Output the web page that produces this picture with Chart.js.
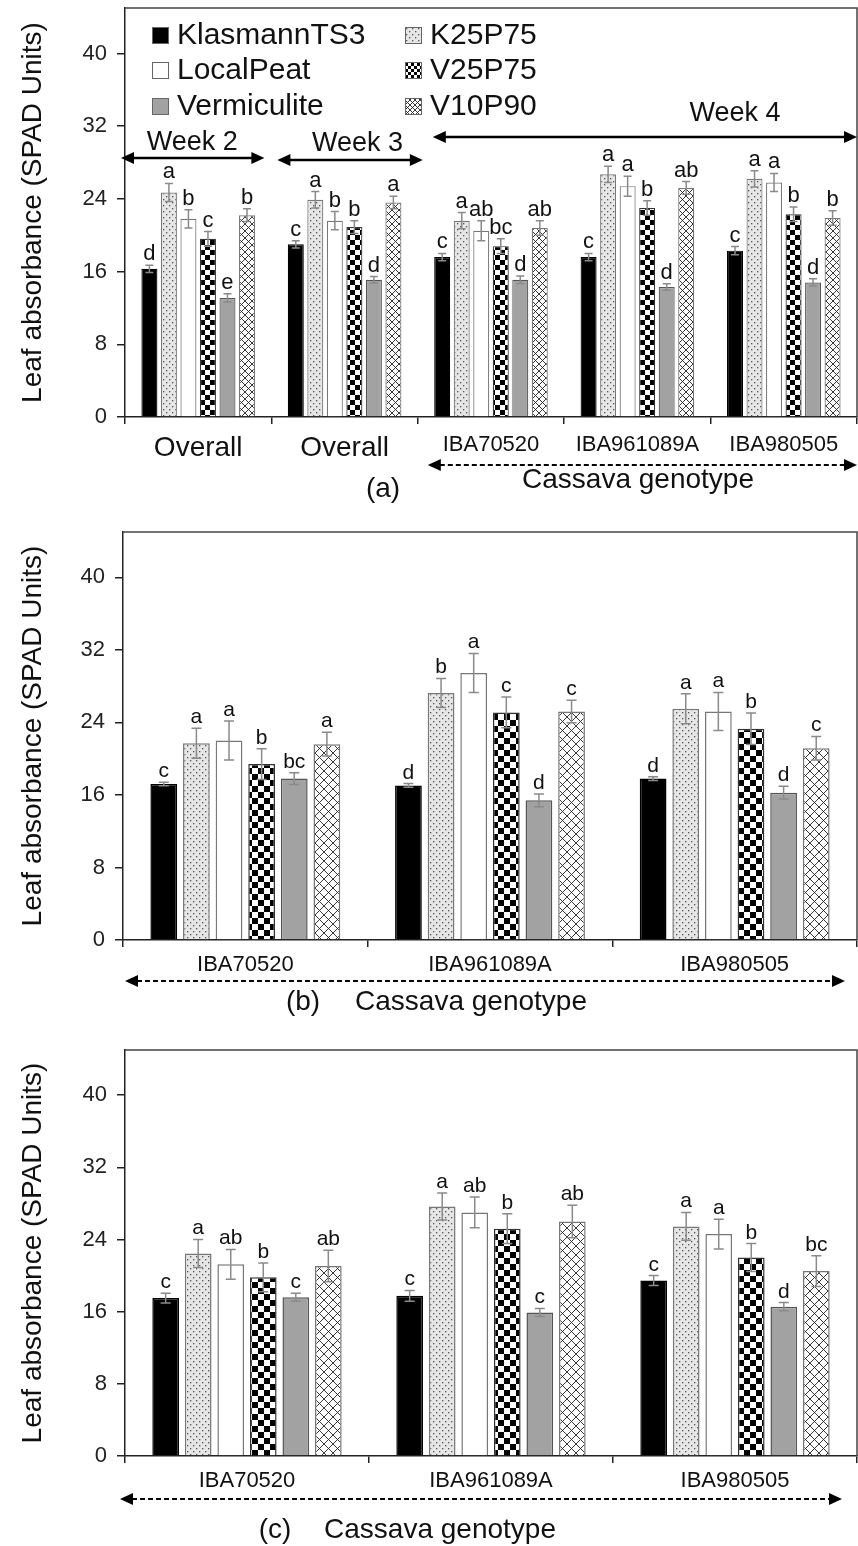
<!DOCTYPE html>
<html lang="en">
<head>
<meta charset="UTF-8">
<title>Leaf absorbance (SPAD Units)</title>
<script src="https://cdn.jsdelivr.net/npm/chart.js"></script>
<style>
  html, body { margin: 0; padding: 0; background: #fff; }
  body { width: 858px; height: 1546px; position: relative; overflow: hidden; }
  .panel { position: absolute; left: 0; width: 858px; }
  canvas { display: block; }
</style>
</head>
<body>
<div class="panel" style="top:0;height:510px"><canvas id="chartA" width="858" height="510"></canvas></div>
<div class="panel" style="top:510px;height:520px"><canvas id="chartB" width="858" height="520"></canvas></div>
<div class="panel" style="top:1030px;height:516px"><canvas id="chartC" width="858" height="516"></canvas></div>

<script>
  // Treatments (bar order inside every group)
  const treatments = ['KlasmannTS3', 'K25P75', 'LocalPeat', 'V25P75', 'Vermiculite', 'V10P90'];
  const yTicks = [0, 8, 16, 24, 32, 40];

  // ---- Panel (a): weeks 2, 3 overall and week 4 per genotype ----
  const labelsA = ['Overall', 'Overall', 'IBA70520', 'IBA961089A', 'IBA980505'];
  const klasmannA    = [16.3, 19.0, 17.6, 17.6, 18.3];
  const k25p75A      = [24.7, 23.9, 21.6, 26.7, 26.2];
  const localPeatA   = [21.8, 21.6, 20.5, 25.4, 25.8];
  const v25p75A      = [19.6, 20.9, 18.8, 23.0, 22.3];
  const vermiculiteA = [13.1, 15.1, 15.1, 14.3, 14.8];
  const v10p90A      = [22.2, 23.6, 20.8, 25.2, 21.9];
  const errKlasmannA    = [0.4, 0.4, 0.4, 0.4, 0.45];
  const errK25p75A      = [1.0, 0.9, 0.9, 0.9, 0.9];
  const errLocalPeatA   = [1.0, 1.0, 1.1, 1.1, 1.0];
  const errV25p75A      = [0.8, 0.7, 0.8, 0.8, 0.8];
  const errVermiculiteA = [0.45, 0.35, 0.4, 0.35, 0.4];
  const errV10p90A      = [0.7, 0.7, 0.8, 0.7, 0.8];
  const letKlasmannA    = ['d', 'c', 'c', 'c', 'c'];
  const letK25p75A      = ['a', 'a', 'a', 'a', 'a'];
  const letLocalPeatA   = ['b', 'b', 'ab', 'a', 'a'];
  const letV25p75A      = ['c', 'b', 'bc', 'b', 'b'];
  const letVermiculiteA = ['e', 'd', 'd', 'd', 'd'];
  const letV10p90A      = ['b', 'a', 'ab', 'ab', 'b'];

  // ---- Panel (b) ----
  const labelsB = ['IBA70520', 'IBA961089A', 'IBA980505'];
  const klasmannB    = [17.2, 17.05, 17.8];
  const k25p75B      = [21.7, 27.25, 25.5];
  const localPeatB   = [22.0, 29.45, 25.2];
  const v25p75B      = [19.4, 25.1, 23.3];
  const vermiculiteB = [17.8, 15.4, 16.25];
  const v10p90B      = [21.6, 25.2, 21.15];
  const errKlasmannB    = [0.2, 0.2, 0.2];
  const errK25p75B      = [1.65, 1.6, 1.65];
  const errLocalPeatB   = [2.15, 2.15, 2.1];
  const errV25p75B      = [1.7, 1.7, 1.75];
  const errVermiculiteB = [0.65, 0.7, 0.7];
  const errV10p90B      = [1.3, 1.25, 1.3];
  const letKlasmannB    = ['c', 'd', 'd'];
  const letK25p75B      = ['a', 'b', 'a'];
  const letLocalPeatB   = ['a', 'a', 'a'];
  const letV25p75B      = ['b', 'c', 'b'];
  const letVermiculiteB = ['bc', 'd', 'd'];
  const letV10p90B      = ['a', 'c', 'c'];

  // ---- Panel (c) ----
  const labelsC = ['IBA70520', 'IBA961089A', 'IBA980505'];
  const klasmannC    = [17.5, 17.75, 19.45];
  const k25p75C      = [22.45, 27.65, 25.45];
  const localPeatC   = [21.25, 27.0, 24.6];
  const v25p75C      = [19.8, 25.2, 22.0];
  const vermiculiteC = [17.6, 15.9, 16.55];
  const v10p90C      = [21.05, 26.0, 20.5];
  const errKlasmannC    = [0.55, 0.6, 0.55];
  const errK25p75C      = [1.55, 1.5, 1.55];
  const errLocalPeatC   = [1.65, 1.7, 1.65];
  const errV25p75C      = [1.6, 1.65, 1.55];
  const errVermiculiteC = [0.45, 0.45, 0.45];
  const errV10p90C      = [1.75, 1.8, 1.7];
  const letKlasmannC    = ['c', 'c', 'c'];
  const letK25p75C      = ['a', 'a', 'a'];
  const letLocalPeatC   = ['ab', 'ab', 'a'];
  const letV25p75C      = ['b', 'b', 'b'];
  const letVermiculiteC = ['c', 'c', 'd'];
  const letV10p90C      = ['ab', 'ab', 'bc'];

  const FONT = '"Liberation Sans", Arial, Helvetica, sans-serif';

  // Fill patterns for the bars
  function makePattern(kind, size) {
    const c = document.createElement('canvas');
    const g = c.getContext('2d');
    if (kind === 'dots') {
      c.width = c.height = 6;
      g.fillStyle = '#e6e6e6'; g.fillRect(0, 0, 6, 6);
      g.fillStyle = '#555';
      g.fillRect(1, 1, 1.3, 1.3); g.fillRect(4, 4, 1.3, 1.3);
    } else if (kind === 'checker') {
      c.width = c.height = size * 2;
      g.fillStyle = '#fff'; g.fillRect(0, 0, size * 2, size * 2);
      g.fillStyle = '#000';
      g.fillRect(0, 0, size, size); g.fillRect(size, size, size, size);
    } else {
      c.width = c.height = size;
      g.fillStyle = '#fff'; g.fillRect(0, 0, size, size);
      g.strokeStyle = '#222'; g.lineWidth = 0.9;
      g.beginPath();
      g.moveTo(0, 0); g.lineTo(size, size);
      g.moveTo(size, 0); g.lineTo(0, size);
      g.stroke();
    }
    return g.createPattern(c, 'repeat');
  }

  function styles(check, cross) {
    return [
      { bg: '#000', border: '#000' },
      { bg: makePattern('dots'), border: '#777' },
      { bg: '#fff', border: '#777' },
      { bg: makePattern('checker', check), border: '#333' },
      { bg: '#a2a2a2', border: '#555' },
      { bg: makePattern('cross', cross), border: '#777' }
    ];
  }

  function buildDatasets(series, st, bw) {
    return treatments.map((name, i) => ({
      label: name,
      data: series[i],
      backgroundColor: st[i].bg,
      borderColor: st[i].border,
      borderWidth: bw,
      categoryPercentage: 0.8,
      barPercentage: 0.82
    }));
  }

  function arrow(ctx, x1, x2, y, dashed, lw) {
    const L = 13, H = 6;
    ctx.save();
    ctx.strokeStyle = '#000'; ctx.fillStyle = '#000'; ctx.lineWidth = lw;
    if (dashed) ctx.setLineDash([5, 3]);
    ctx.beginPath(); ctx.moveTo(x1 + L - 1, y); ctx.lineTo(x2 - L + 1, y); ctx.stroke();
    ctx.setLineDash([]);
    ctx.beginPath(); ctx.moveTo(x1, y); ctx.lineTo(x1 + L, y - H); ctx.lineTo(x1 + L, y + H); ctx.closePath(); ctx.fill();
    ctx.beginPath(); ctx.moveTo(x2, y); ctx.lineTo(x2 - L, y - H); ctx.lineTo(x2 - L, y + H); ctx.closePath(); ctx.fill();
    ctx.restore();
  }

  function text(ctx, s, x, y, size, align) {
    ctx.save();
    ctx.fillStyle = '#111';
    ctx.font = size + 'px ' + FONT;
    ctx.textAlign = align || 'center';
    ctx.textBaseline = 'middle';
    ctx.fillText(s, x, y);
    ctx.restore();
  }

  // Error bars, letters, frame and extra annotations
  function extras(errors, letters, cap, letterSize, annotate) {
    return {
      id: 'extras',
      afterDatasetsDraw(chart) {
        const ctx = chart.ctx, y = chart.scales.y;
        ctx.save();
        chart.data.datasets.forEach((ds, di) => {
          chart.getDatasetMeta(di).data.forEach((bar, j) => {
            const v = ds.data[j], e = errors[di][j];
            const yt = y.getPixelForValue(v + e), yb = y.getPixelForValue(v - e);
            ctx.strokeStyle = '#8a8a8a'; ctx.lineWidth = 1.5;
            ctx.beginPath();
            ctx.moveTo(bar.x, yt); ctx.lineTo(bar.x, yb);
            ctx.moveTo(bar.x - cap, yt); ctx.lineTo(bar.x + cap, yt);
            ctx.moveTo(bar.x - cap, yb); ctx.lineTo(bar.x + cap, yb);
            ctx.stroke();
            ctx.fillStyle = '#111';
            ctx.font = letterSize + 'px ' + FONT;
            ctx.textAlign = 'center'; ctx.textBaseline = 'alphabetic';
            ctx.fillText(letters[di][j], bar.x, yt - 5);
          });
        });
        ctx.restore();
      },
      afterDraw(chart) {
        const ctx = chart.ctx, ca = chart.chartArea;
        ctx.save();
        ctx.strokeStyle = '#444'; ctx.lineWidth = 1.5;
        ctx.beginPath(); ctx.moveTo(ca.left, ca.top); ctx.lineTo(ca.right, ca.top); ctx.lineTo(ca.right, ca.bottom); ctx.stroke();
        ctx.restore();
        annotate(chart, ctx);
      }
    };
  }

  function makeChart(id, labels, series, st, bw, layoutTop, yWidth, xHeight, xFont, tickPad, plugin) {
    return new Chart(document.getElementById(id), {
      type: 'bar',
      data: { labels: labels, datasets: buildDatasets(series, st, bw) },
      plugins: [plugin],
      options: {
        responsive: false,
        animation: false,
        layout: { padding: { top: layoutTop, right: 1, bottom: 0, left: 0 } },
        plugins: { legend: { display: false }, tooltip: { enabled: false } },
        scales: {
          x: {
            grid: { display: true, drawOnChartArea: false, drawTicks: true, tickLength: 7, offset: true, color: '#222', lineWidth: 1.5 },
            border: { display: true, color: '#222', width: 1.5 },
            ticks: { color: '#111', padding: tickPad, maxRotation: 0, autoSkip: false, font: xFont },
            afterFit: s => { s.height = xHeight; s.paddingLeft = 0; s.paddingRight = 0; }
          },
          y: {
            min: 0, max: 45,
            ticks: { stepSize: 8, color: '#222', padding: 10, font: { family: FONT, size: 22 } },
            afterBuildTicks: s => { s.ticks = yTicks.map(v => ({ value: v })); },
            grid: { drawOnChartArea: false, drawTicks: true, tickLength: 8, color: '#222', lineWidth: 1.5 },
            border: { display: true, color: '#222', width: 1.5 },
            title: { display: true, text: 'Leaf absorbance (SPAD Units)', color: '#111', font: { family: FONT, size: 28 }, padding: { top: 16, bottom: 0 } },
            afterFit: s => { s.width = yWidth; s.paddingTop = 0; s.paddingBottom = 0; }
          }
        }
      }
    });
  }

  // Panel (a)
  const stA = styles(5, 7);
  const annotateA = (chart, ctx) => {
    const xs = chart.scales.x, ys = chart.scales.y;
    const half = (xs.getPixelForValue(1) - xs.getPixelForValue(0)) / 2;
    const b = i => xs.getPixelForValue(i) - half;

    // legend, two columns inside the plot
    const order = [[0, 2, 4], [1, 3, 5]];
    const colX = [152, 405], rowY = [35, 70, 106];
    order.forEach((col, c) => col.forEach((ti, r) => {
      ctx.save();
      ctx.fillStyle = ti === 3 ? makePattern('checker', 3) : ti === 5 ? makePattern('cross', 5) : stA[ti].bg;
      ctx.fillRect(colX[c], rowY[r] - 8, 17, 17);
      ctx.strokeStyle = '#666'; ctx.lineWidth = 1;
      ctx.strokeRect(colX[c] + 0.5, rowY[r] - 7.5, 16, 16);
      ctx.restore();
      text(ctx, treatments[ti], colX[c] + 25, rowY[r] + 1, 30, 'left');
    }));

    // week spans
    const yw = ys.getPixelForValue(28.5);
    arrow(ctx, b(0) - 4, b(1) - 7, yw, false, 2.5);
    text(ctx, 'Week 2', (b(0) + b(1)) / 2 - 6, ys.getPixelForValue(30.2), 27);
    arrow(ctx, b(1) + 6, b(2) + 5, yw + 2, false, 2.5);
    text(ctx, 'Week 3', (b(1) + b(2)) / 2 + 13, ys.getPixelForValue(30.1), 27);
    arrow(ctx, b(2) + 15, chart.chartArea.right, ys.getPixelForValue(30.8), false, 2.5);
    text(ctx, 'Week 4', 735, ys.getPixelForValue(33.4), 27);

    arrow(ctx, b(2) + 10, 857, 465, true, 2);
    text(ctx, 'Cassava genotype', 638, 480, 28);
    text(ctx, '(a)', 383, 489, 28);
  };
  const xFontA = c => c.index < 2
    ? { family: FONT, size: 28, lineHeight: 1.0 }
    : { family: FONT, size: 22, lineHeight: 1.0 };
  makeChart('chartA', labelsA,
    [klasmannA, k25p75A, localPeatA, v25p75A, vermiculiteA, v10p90A], stA, 1.2, 8, 125, 93, xFontA, 10,
    extras([errKlasmannA, errK25p75A, errLocalPeatA, errV25p75A, errVermiculiteA, errV10p90A],
           [letKlasmannA, letK25p75A, letLocalPeatA, letV25p75A, letVermiculiteA, letV10p90A], 4, 22, annotateA));

  // Panel (b)
  const xFontBC = { family: FONT, size: 22, lineHeight: 1.0 };
  makeChart('chartB', labelsB,
    [klasmannB, k25p75B, localPeatB, v25p75B, vermiculiteB, v10p90B], styles(6, 9), 1.5, 22, 123, 90, xFontBC, 7,
    extras([errKlasmannB, errK25p75B, errLocalPeatB, errV25p75B, errVermiculiteB, errV10p90B],
           [letKlasmannB, letK25p75B, letLocalPeatB, letV25p75B, letVermiculiteB, letV10p90B], 5, 21,
           (chart, ctx) => {
             arrow(ctx, 125, 845, 471, true, 2);
             text(ctx, '(b)', 303, 492, 28);
             text(ctx, 'Cassava genotype', 471, 492, 28);
           }));

  // Panel (c)
  makeChart('chartC', labelsC,
    [klasmannC, k25p75C, localPeatC, v25p75C, vermiculiteC, v10p90C], styles(6, 9), 1.5, 20, 125, 90, xFontBC, 7,
    extras([errKlasmannC, errK25p75C, errLocalPeatC, errV25p75C, errVermiculiteC, errV10p90C],
           [letKlasmannC, letK25p75C, letLocalPeatC, letV25p75C, letVermiculiteC, letV10p90C], 5, 21,
           (chart, ctx) => {
             arrow(ctx, 120, 842, 469, true, 2);
             text(ctx, '(c)', 275, 500, 28);
             text(ctx, 'Cassava genotype', 440, 500, 28);
           }));
</script>
</body>
</html>
